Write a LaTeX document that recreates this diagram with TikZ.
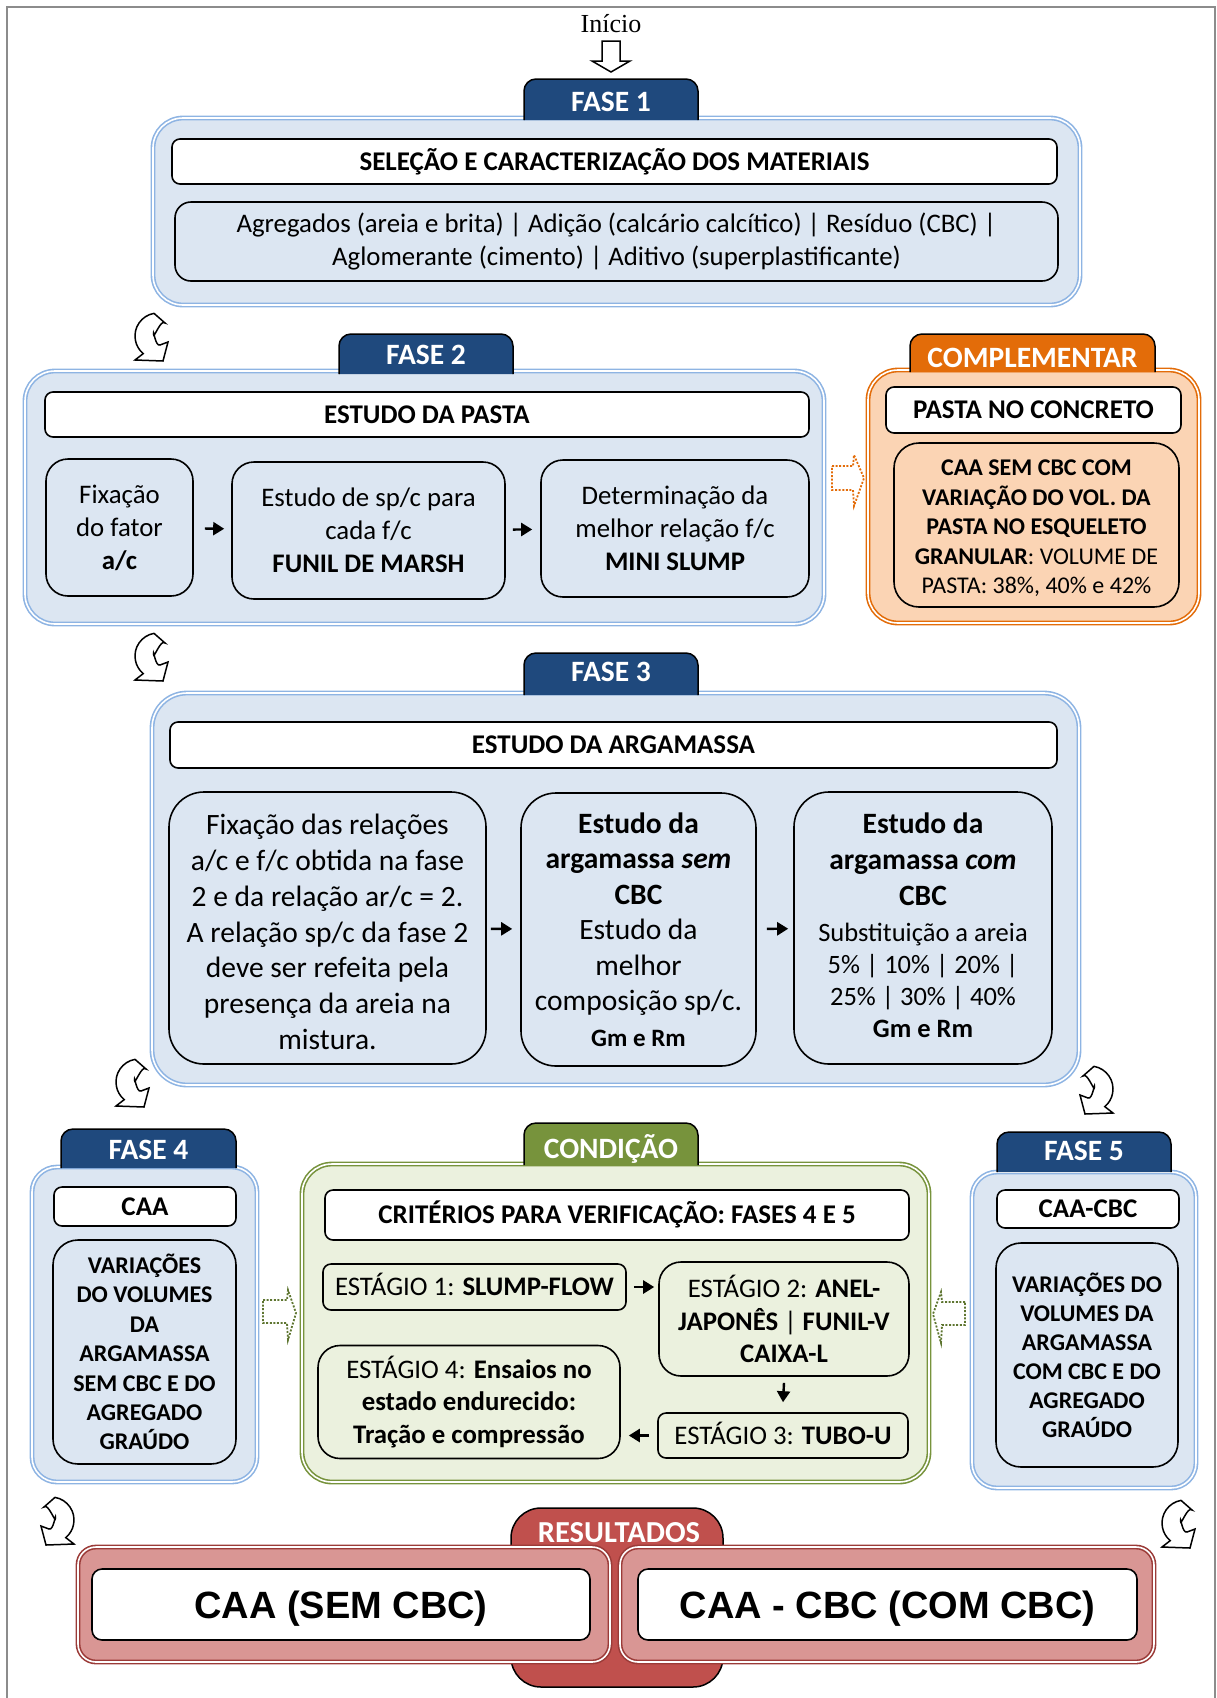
\documentclass[tikz,border=0pt]{standalone}
\usepackage{fontspec}
\setmainfont{Carlito}
\newfontfamily\timesf{Liberation Serif}
\newfontfamily\arialf{Liberation Sans}
\usetikzlibrary{arrows.meta}

\definecolor{tabblue}{HTML}{1F497D}
\definecolor{paleblue}{HTML}{DCE6F2}
\definecolor{lineblue}{HTML}{8EB4E3}
\definecolor{orangeD}{HTML}{E36C09}
\definecolor{orangeL}{HTML}{FBD4B4}
\definecolor{greenD}{HTML}{77933C}
\definecolor{greenDot}{HTML}{5E7530}
\definecolor{greenL}{HTML}{EBF1DE}
\definecolor{redD}{HTML}{C0504D}
\definecolor{redL}{HTML}{D99694}
\definecolor{redE}{HTML}{9B3B38}
\definecolor{framegray}{HTML}{8C8C8C}

\newcommand\fs[2]{\fontsize{#1}{#2}\selectfont}

% tab with rounded top corners: x1, y1(top), x2, y2(bottom), colour, name, baseline, text
\newcommand\phasetab[8]{%
  \fill[#5] (#1,#4) -- (#1,{#2+12}) arc[start angle=180, end angle=270, radius=12]
    -- ({#3-12},#2) arc[start angle=270, end angle=360, radius=12] -- (#3,#4) -- cycle;
  \draw[line width=1.5pt] (#1,#4) -- (#1,{#2+12}) arc[start angle=180, end angle=270, radius=12]
    -- ({#3-12},#2) arc[start angle=270, end angle=360, radius=12] -- (#3,#4);
  \node[tabtext, anchor=base] (#6) at ({(#1+#3)/2},#7) {#8};
}

\tikzset{
  panel/.style={rectangle, rounded corners=30pt, line width=1.6pt, double=white,
    double distance=1.6pt, inner sep=0pt},
  headbox/.style={rectangle, rounded corners=8pt, draw=black, line width=1.6pt, fill=white,
    font=\fs{27}{32}\bfseries, inner sep=0pt, text height=17.5pt, text depth=0pt},
  subbox/.style={rectangle, rounded corners=22pt, draw=black, line width=1.6pt,
    align=center, inner sep=0pt},
  tabtext/.style={text=white, font=\fs{29.5}{34}\bfseries, inner sep=0pt},
  arr/.style={-{Triangle[length=11pt,width=13pt]}, line width=2.4pt},
  dotarrow/.style={line width=1.8pt, dash pattern=on 2pt off 1.6pt},
  % thick C-shaped band with a short head; local axes follow the page (y downwards)
  turnarrow/.pic={
    \draw[fill=white, line width=1.5pt, line join=miter]
      (260:23) arc[start angle=260, end angle=130, radius=23]
      -- (-23,24) -- (5,25) -- (10,6) -- (2,9)
      to[out=200, in=90] (-4.5,-2) to[out=270, in=135] (7,-13) -- cycle;
  }
}

\begin{document}
\begin{tikzpicture}[x=1pt, y=-1pt]
\useasboundingbox (0,0) rectangle (1217,1698);

% outer frame
\draw[framegray, line width=2.5pt] (7,1698) -- (7,7) -- (1215,7) -- (1215,1698);

% start marker
\node[font=\timesf\fs{26}{30}, inner sep=0pt] (inicio) at (611,24) {Início};
\draw[line width=1.5pt, fill=white, line join=miter]
  (602,41) -- (620,41) -- (620,61) -- (630,61) -- (611,72) -- (592,61) -- (602,61) -- cycle;

% ---------------- FASE 1
\node[panel, draw=lineblue, fill=paleblue, minimum width=927pt, minimum height=187pt] (p1) at (616.5,211.5) {};
\phasetab{524}{79}{698}{120}{tabblue}{t1}{111}{FASE 1}
\node[headbox, minimum width=885pt, minimum height=45pt] (h1) at (614.5,161.5) {SELEÇÃO E CARACTERIZAÇÃO DOS MATERIAIS};
\node[subbox, rounded corners=16pt, fill=paleblue, minimum width=883pt, minimum height=79pt, font=\fs{26.8}{33}] (m1) at (616.5,241.5)
  {Agregados (areia e brita) | Adição (calcário calcítico) | Resíduo (CBC) |\\Aglomerante (cimento) | Aditivo (superplastificante)};

% ---------------- FASE 2
\node[panel, draw=lineblue, fill=paleblue, minimum width=799pt, minimum height=253pt] (p2) at (424.5,497.5) {};
\phasetab{339}{334}{513}{374}{tabblue}{t2}{364}{FASE 2}
\node[headbox, minimum width=764pt, minimum height=45pt] (h2) at (427,414.5) {ESTUDO DA PASTA};
\node[subbox, fill=paleblue, minimum width=147pt, minimum height=137pt, font=\fs{26.8}{33}] (b21) at (119.5,527.5)
  {Fixação\\do fator\\\textbf{a/c}};
\node[subbox, fill=paleblue, minimum width=273pt, minimum height=137pt, font=\fs{26.8}{33}] (b22) at (368.5,530.5)
  {Estudo de sp/c para\\cada f/c\\\textbf{FUNIL DE MARSH}};
\node[subbox, fill=paleblue, minimum width=268pt, minimum height=137pt, font=\fs{26.8}{33}] (b23) at (675,528.5)
  {Determinação da\\melhor relação f/c\\\textbf{MINI SLUMP}};
\draw[arr, shorten <=11pt, shorten >=7pt] (b21) -- (b22);
\draw[arr, shorten <=7pt, shorten >=8pt] (b22) -- (b23);

% ---------------- COMPLEMENTAR
\node[panel, draw=orangeD, fill=orangeL, minimum width=331pt, minimum height=253pt] (pc) at (1033.5,496.5) {};
\phasetab{910}{334}{1155}{372}{orangeD}{tc}{367}{COMPLEMENTAR}
\node[headbox, minimum width=295pt, minimum height=46pt] (hc) at (1033.5,410) {PASTA NO CONCRETO};
\node[subbox, rounded corners=25pt, fill=orangeL, minimum width=285pt, minimum height=164pt] (bc) at (1036.5,525) {};
\node[align=center, inner sep=0pt, font=\fs{24}{29.5}] (bct) at (1036.5,528.5)
  {\textbf{CAA SEM CBC COM}\\\textbf{VARIAÇÃO DO VOL. DA}\\\textbf{PASTA NO ESQUELETO}\\\textbf{GRANULAR}: VOLUME DE\\PASTA: 38\%, 40\% e 42\%};
\draw[orangeD, dotarrow] (832,466) -- (853,466) -- (854,455) -- (864,478) -- (854,506) -- (853,490) -- (832,490) -- cycle;

% ---------------- FASE 3
\node[panel, rounded corners=35pt, draw=lineblue, fill=paleblue, minimum width=927pt, minimum height=392pt] (p3) at (615.5,889) {};
\phasetab{524}{653}{698}{695}{tabblue}{t3}{681}{FASE 3}
\node[headbox, minimum width=887pt, minimum height=46pt] (h3) at (613.5,745) {ESTUDO DA ARGAMASSA};
\node[subbox, rounded corners=35pt, fill=paleblue, minimum width=317pt, minimum height=272pt] (b31) at (327.5,928) {};
\node[align=center, inner sep=0pt, font=\fs{29.5}{35.8}] (b31t) at (327.5,932)
  {Fixação das relações\\a/c e f/c obtida na fase\\2 e da relação ar/c = 2.\\A relação sp/c da fase 2\\deve ser refeita pela\\presença da areia na\\mistura.};
\node[subbox, rounded corners=35pt, fill=paleblue, minimum width=235pt, minimum height=273pt, font=\fs{29.5}{35.5}] (b32) at (638.5,929.5)
  {\textbf{Estudo da}\\\textbf{argamassa \textit{sem}}\\\textbf{CBC}\\Estudo da\\melhor\\composição sp/c.\\{\fs{25}{33}\bfseries Gm e Rm}};
\node[subbox, rounded corners=35pt, fill=paleblue, minimum width=258pt, minimum height=272pt] (b33) at (923,928) {};
\node[align=center, inner sep=0pt, font=\fs{29.5}{36}] (b33t) at (923,925)
  {\textbf{Estudo da}\\\textbf{argamassa \textit{com}}\\\textbf{CBC}\\{\fs{26.5}{32}Substituição a areia}\\[-4pt]{\fs{26.5}{32}5\% | 10\% | 20\% |}\\[-4pt]{\fs{26.5}{32}25\% | 30\% | 40\%}\\[-4pt]{\fs{26.5}{32}\bfseries Gm e Rm}};
\draw[arr, shorten <=4pt, shorten >=8pt] (b31) -- (b32);
\draw[arr, shorten <=10pt, shorten >=5pt] (b32) -- (b33);

% ---------------- FASE 4
\node[panel, rounded corners=25pt, draw=lineblue, fill=paleblue, minimum width=225pt, minimum height=315pt] (p4) at (144.5,1324.5) {};
\phasetab{61}{1129}{236}{1168}{tabblue}{t4}{1159}{FASE 4}
\node[headbox, minimum width=182pt, minimum height=39pt] (h4) at (145,1206.5) {CAA};
\node[subbox, rounded corners=25pt, fill=paleblue, minimum width=183pt, minimum height=224pt, font=\fs{24}{29.4}\bfseries] (b4) at (144.5,1352)
  {VARIAÇÕES\\DO VOLUMES\\DA\\ARGAMASSA\\SEM CBC E DO\\AGREGADO\\GRAÚDO};

% ---------------- CONDIÇÃO
\node[panel, draw=greenD, fill=greenL, minimum width=627pt, minimum height=318pt] (pk) at (615.5,1323) {};
\phasetab{524}{1123}{698}{1165}{greenD}{tk}{1158}{CONDIÇÃO}
\node[headbox, minimum width=584pt, minimum height=50pt] (hk) at (617,1215) {CRITÉRIOS PARA VERIFICAÇÃO: FASES 4 E 5};
\node[subbox, rounded corners=8pt, fill=greenL, minimum width=303pt, minimum height=46pt, font=\fs{26.8}{32}, text height=17pt, text depth=0pt] (s1) at (474.5,1287)
  {ESTÁGIO 1: \textbf{SLUMP-FLOW}};
\node[subbox, rounded corners=22pt, fill=greenL, minimum width=250pt, minimum height=114pt, font=\fs{26.8}{32.5}] (s2) at (784,1319)
  {ESTÁGIO 2: \textbf{ANEL-}\\\textbf{JAPONÊS} | \textbf{FUNIL-V}\\\textbf{CAIXA-L}};
\node[subbox, rounded corners=8pt, fill=greenL, minimum width=250pt, minimum height=45pt, font=\fs{26.8}{32}, text height=17pt, text depth=0pt] (s3) at (783,1435.5)
  {ESTÁGIO 3: \textbf{TUBO-U}};
\node[subbox, rounded corners=22pt, fill=greenL, minimum width=302pt, minimum height=113pt, font=\fs{26.8}{32.5}] (s4) at (469,1402)
  {ESTÁGIO 4: \textbf{Ensaios no}\\\textbf{estado endurecido:}\\\textbf{Tração e compressão}};
\draw[arr] ([xshift=7pt]s1.east) -- ([xshift=-4pt]s1.east -| s2.west);
\draw[arr] ([yshift=-6pt]s2.south) -- ([yshift=10pt]s3.north);
\draw[arr] ([xshift=-8pt]s3.west) -- ([xshift=8pt]s3.west -| s4.east);
\draw[greenDot, dotarrow] (263,1300) -- (287,1300) -- (288,1290) -- (296,1313) -- (288,1340) -- (287,1323) -- (263,1323) -- cycle;
\draw[greenDot, dotarrow] (965,1302) -- (942,1302) -- (941,1292) -- (933,1314) -- (941,1343) -- (942,1325) -- (965,1325) -- cycle;

% ---------------- FASE 5
\node[panel, rounded corners=25pt, draw=lineblue, fill=paleblue, minimum width=224pt, minimum height=316pt] (p5) at (1084,1330) {};
\phasetab{997}{1132}{1171}{1172}{tabblue}{t5}{1160}{FASE 5}
\node[headbox, minimum width=182pt, minimum height=38pt] (h5) at (1088,1209) {CAA-CBC};
\node[subbox, rounded corners=25pt, fill=paleblue, minimum width=182pt, minimum height=224pt, font=\fs{24}{29}\bfseries] (b5) at (1087,1355)
  {VARIAÇÕES DO\\VOLUMES DA\\ARGAMASSA\\COM CBC E DO\\AGREGADO\\GRAÚDO};

% ---------------- RESULTADOS
\node[rectangle, rounded corners=30pt, fill=redD, draw=black, line width=1.5pt, minimum width=212pt, minimum height=179pt] (rpill) at (617,1597.5) {};
\node[tabtext, font=\fs{30.5}{34}\bfseries, anchor=base] (rlabel) at (619,1542) {RESULTADOS};
\node[panel, rounded corners=18pt, draw=redE, fill=redL, minimum width=532pt, minimum height=115pt] (r1) at (344,1604.5) {};
\node[panel, rounded corners=18pt, draw=redE, fill=redL, minimum width=534pt, minimum height=115pt] (r2) at (887,1604.5) {};
\node[headbox, rounded corners=10pt, minimum width=498pt, minimum height=71pt, font=\arialf\fs{38}{44}\bfseries, text height=27pt] (w1) at (341,1604.5) {CAA (SEM CBC)};
\node[headbox, rounded corners=10pt, minimum width=499pt, minimum height=71pt, font=\arialf\fs{38}{44}\bfseries, text height=27pt] (w2) at (887.5,1604.5) {CAA - CBC (COM CBC)};

% ---------------- curved flow arrows
\pic at (158,336) {turnarrow};
\pic at (158,656) {turnarrow};
\pic at (139,1082) {turnarrow};
\pic[xscale=-1] at (1090,1089) {turnarrow};
\pic[xscale=-1] at (51,1520) {turnarrow};
\pic at (1185,1523) {turnarrow};
\end{tikzpicture}
\end{document}
